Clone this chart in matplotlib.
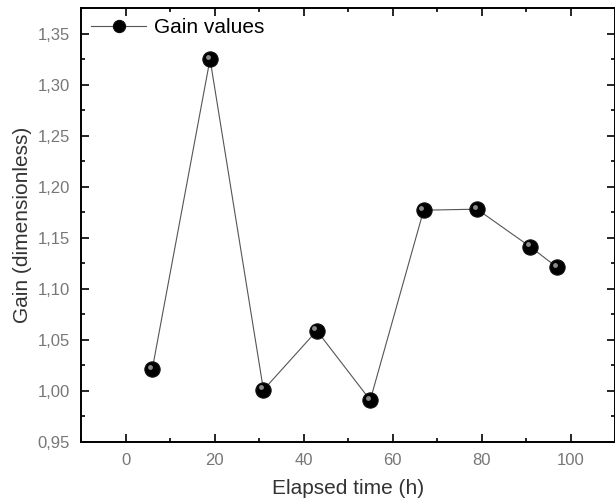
import matplotlib
matplotlib.use("Agg")
import matplotlib.pyplot as plt
import matplotlib.transforms as mtransforms
from matplotlib.ticker import MultipleLocator, FuncFormatter

# 数据
time_h = [6, 19, 31, 43, 55, 67, 79, 91, 97]
gain = [1.021, 1.325, 1.001, 1.059, 0.991, 1.177, 1.178, 1.141, 1.121]

plt.rcParams["font.family"] = ["Liberation Sans", "DejaVu Sans"]

fig = plt.figure(figsize=(6.15, 4.98), dpi=100)
ax = fig.add_axes([81 / 615, 56 / 498, 534 / 615, 434 / 498])

ax.plot(time_h, gain, color="#555555", lw=0.8, marker="o", ms=11,
        mfc="black", mec="#111111", mew=0.8, label="Gain values", zorder=3)
# 高光 (球形效果)
hl = mtransforms.offset_copy(ax.transData, fig=fig, x=-1.8, y=1.8, units="points")
ax.plot(time_h, gain, ls="none", marker="o", ms=3.5, mfc="#9a9a9a", mec="none",
        alpha=0.9, transform=hl, zorder=4)

ax.set_xlim(-10, 110)
ax.set_ylim(0.95, 1.375)
ax.xaxis.set_major_locator(MultipleLocator(20))
ax.xaxis.set_minor_locator(MultipleLocator(10))
ax.yaxis.set_major_locator(MultipleLocator(0.05))
ax.yaxis.set_minor_locator(MultipleLocator(0.025))
ax.yaxis.set_major_formatter(FuncFormatter(lambda v, p: f"{v:.2f}".replace(".", ",")))

ax.tick_params(which="both", direction="in", top=True, right=True, width=1.2)
ax.tick_params(which="major", length=6, labelsize=12, labelcolor="#777777", pad=8)
ax.tick_params(which="minor", length=3)
for s in ax.spines.values():
    s.set_linewidth(1.4)

ax.set_xlabel("Elapsed time (h)", fontsize=15, color="#333333", labelpad=8)
ax.set_ylabel("Gain (dimensionless)", fontsize=15, color="#333333", labelpad=4)

ax.legend(loc="upper left", frameon=False, fontsize=15, handlelength=2.6,
          borderaxespad=0.2, handletextpad=0.4, borderpad=0.3, markerscale=0.8)

plt.savefig("out.png", dpi=100)
